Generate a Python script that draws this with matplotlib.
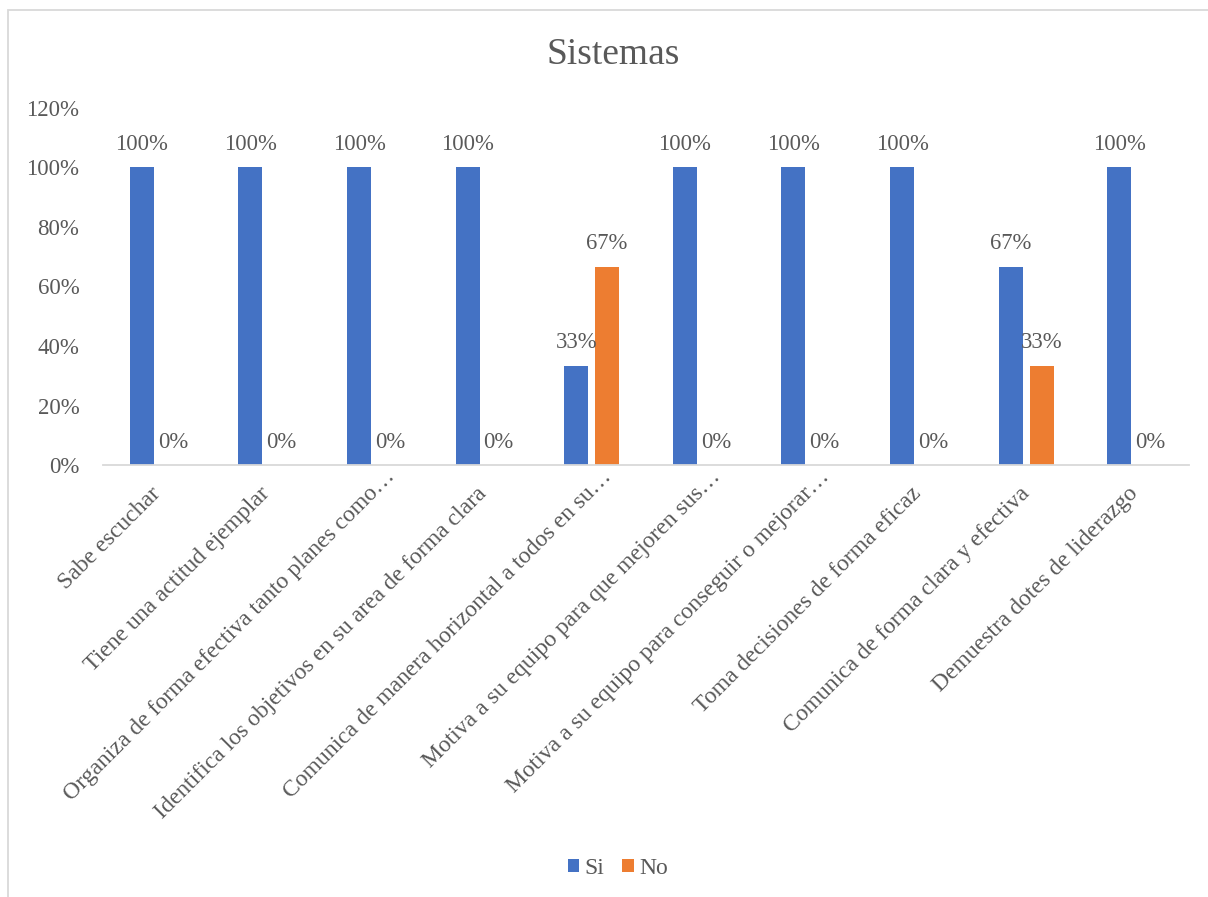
import matplotlib.pyplot as plt
import matplotlib.transforms as mtransforms
import numpy as np
from matplotlib.patches import Rectangle

plt.rcParams["font.family"] = ["Liberation Serif", "DejaVu Serif"]

categories = [
    "Sabe escuchar",
    "Tiene una actitud ejemplar",
    "Organiza de forma efectiva tanto planes como…",
    "Identifica los objetivos en su area de forma clara",
    "Comunica de manera horizontal a todos en su…",
    "Motiva a su equipo para que mejoren sus…",
    "Motiva a su equipo para conseguir o mejorar…",
    "Toma decisiones de forma eficaz",
    "Comunica de forma clara y efectiva",
    "Demuestra dotes de liderazgo",
]
si = [1.0, 1.0, 1.0, 1.0, 1 / 3, 1.0, 1.0, 1.0, 2 / 3, 1.0]
no = [0.0, 0.0, 0.0, 0.0, 2 / 3, 0.0, 0.0, 0.0, 1 / 3, 0.0]

text_color = "#595959"

fig = plt.figure(figsize=(12.08, 8.97), dpi=100)
# marco gris del gráfico
fig.patches.append(Rectangle((8 / 1208, -0.01), 1.1, 1 - 10 / 897 + 0.01,
                             transform=fig.transFigure, fill=False,
                             edgecolor="#D9D9D9", linewidth=1.3))
ax = fig.add_axes([103 / 1208, 1 - 465 / 897, 1086 / 1208, 357 / 897])

x = np.arange(len(categories))
w = 0.221
off = 0.1425
b1 = ax.bar(x - off, si, w, color="#4472C4", label="Si")
b2 = ax.bar(x + off, no, w, color="#ED7D31", label="No")

fmt = lambda v: f"{v * 100:.0f}%"
ax.bar_label(b1, labels=[fmt(v) for v in si], padding=9, fontsize=16.3, color=text_color)
ax.bar_label(b2, labels=[fmt(v) for v in no], padding=9, fontsize=16.3, color=text_color)

ax.set_xlim(-0.5, len(categories) - 0.5)
ax.set_ylim(0, 1.2)
ax.set_yticks(np.arange(0, 1.21, 0.2))
ax.set_yticklabels([f"{t}%" for t in range(0, 121, 20)], fontsize=16.5, color=text_color)
ax.set_xticks(x)
ax.set_xticklabels([])
ax.tick_params(axis="both", length=0)
ax.tick_params(axis="y", pad=17)

# etiquetas de categoría giradas (los "…" sobresalen como en Excel)
fs = 17
for xi, lab in zip(x, categories):
    dx, dy = -5, -13
    if lab.endswith("…"):
        dx += 12
        dy += 12
    tr = ax.get_xaxis_transform() + mtransforms.ScaledTranslation(dx / 72, dy / 72, fig.dpi_scale_trans)
    ax.text(xi, 0, lab, transform=tr, rotation=45, ha="right", va="top",
            rotation_mode="anchor", fontsize=fs, color=text_color)

for s in ["top", "right", "left"]:
    ax.spines[s].set_visible(False)
ax.spines["bottom"].set_color("#D9D9D9")
ax.spines["bottom"].set_linewidth(1.3)

fig.text(0.5 + 9 / 1208, 1 - 55 / 897, "Sistemas", ha="center", va="center",
         fontsize=27, color=text_color)

fig.legend(handles=[b1, b2], loc="center", bbox_to_anchor=(618 / 1208, 1 - 868 / 897),
           ncol=2, frameon=False, fontsize=17, labelcolor=text_color,
           handlelength=0.48, handleheight=0.48, handletextpad=0.25, columnspacing=0.75)

fig.savefig("out.png", dpi=100)
